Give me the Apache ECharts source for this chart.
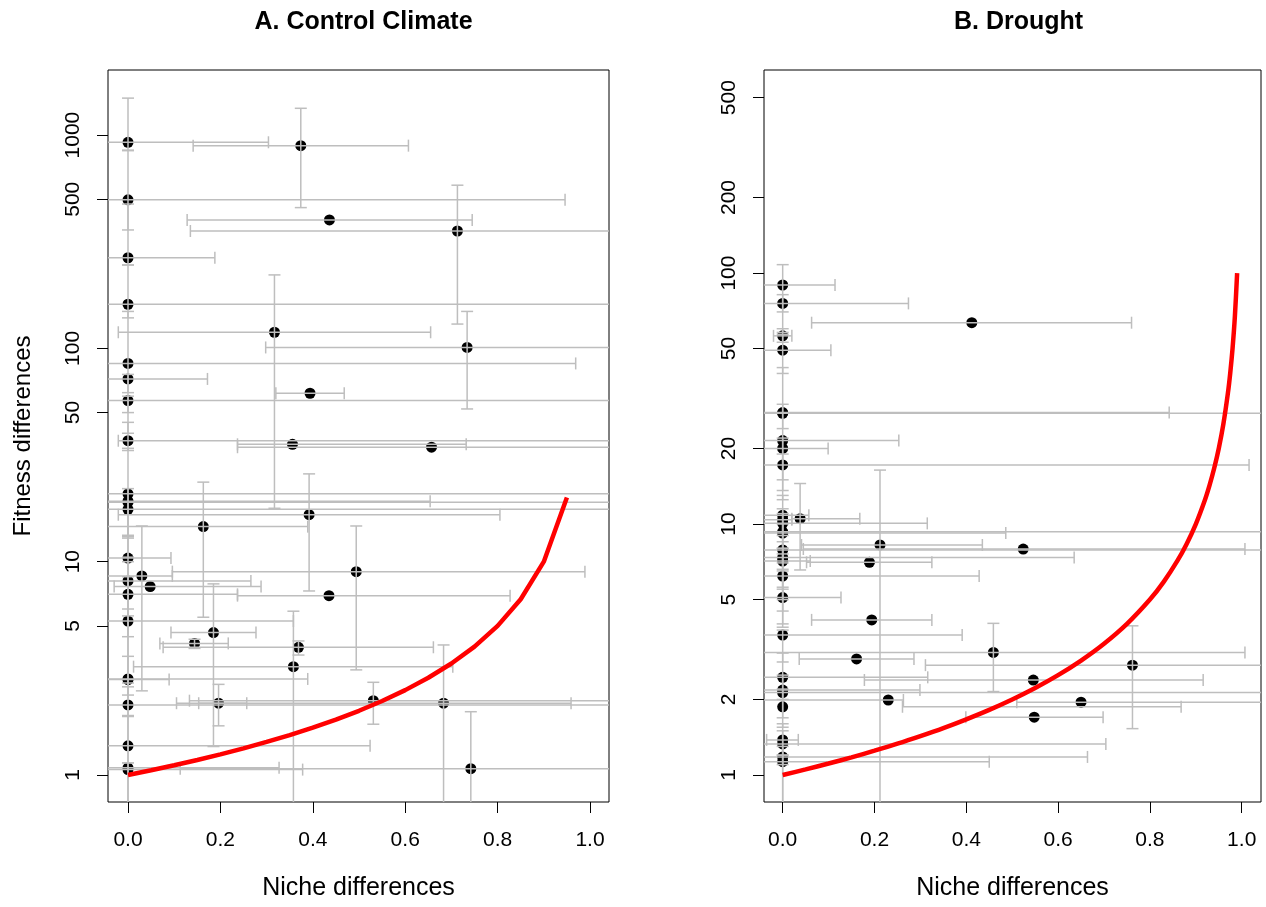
<!DOCTYPE html>
<html>
<head>
<meta charset="utf-8">
<script src="https://cdn.jsdelivr.net/npm/echarts@6.0.0/dist/echarts.min.js"></script>
<style>
html,body{margin:0;padding:0;background:#fff;}
#chart{width:1266px;height:907px;}
</style>
</head>
<body>
<div id="chart"></div>
<script>
// ---------- tick labels ----------
const xTicks = [0, 0.2, 0.4, 0.6, 0.8, 1.0];
const ctrlYTicks = [1, 5, 10, 50, 100, 500, 1000];
const drYTicks = [1, 2, 5, 10, 20, 50, 100, 200, 500];

// ---------- Panel A: Control Climate ----------
const ctrlX   = [0,0,0,0,0,0,0,0,0,0,0,0,0,0,0,0,0,0,0,0,0,0,
                 0.374,0.436,0.713,0.317,0.734,0.394,0.356,0.657,0.392,0.163,0.030,0.048,0.494,0.435,0.185,0.144,0.369,0.358,0.196,0.531,0.683,0.742];
const ctrlY   = [925,497,266,161,85,71.9,56.9,36.9,20.8,19.2,19.0,17.6,10.4,8.12,7.03,5.27,2.82,2.80,2.13,1.37,1.08,1.06,
                 892,400,355,119,101,61.6,35.5,34.4,16.6,14.6,8.57,7.64,8.98,6.93,4.65,4.14,3.97,3.22,2.17,2.23,2.17,1.07];
const ctrlXlo = [-0.1,-0.1,-0.1,-0.1,-0.1,-0.1,-0.1,-0.021,-0.1,-0.1,-0.1,-0.1,-0.1,-0.1,-0.1,-0.1,-0.1,-0.1,-0.1,-0.1,-0.1,-0.1,
                 0.141,0.128,0.135,-0.021,0.298,0.320,0.237,0.237,-0.021,-0.1,-0.1,-0.03,0.096,0.237,0.093,0.069,0.076,0.012,0.105,0.133,0.153,0.113];
const ctrlXhi = [0.304,0.946,0.188,1.2,0.969,0.172,1.2,1.2,1.2,0.654,1.2,1.2,0.093,0.266,0.237,0.358,0.389,0.089,1.2,0.524,0.327,0.378,
                 0.607,0.745,1.2,0.655,1.2,0.468,0.732,1.2,0.805,0.389,0.096,0.288,0.989,0.827,0.277,0.217,0.661,0.703,0.257,1.2,0.959,1.2];
const ctrlYlo = [845,359,246,139,62,50,40,33.2,13.3,12.9,null,10.5,5.57,4.45,2.59,2.37,1.88,null,1.14,0.5,null,0.5,
                 457,null,130,17.8,52,null,null,null,7.29,5.49,2.48,null,3.11,null,1.36,3.92,3.65,0.5,1.70,1.73,0.5,0.5];
const ctrlYhi = [1490,850,475,246,149,75.5,59.7,45,34,22,null,19,13.1,10,8.5,6,3.6,null,2.7,1.9,null,1.14,
                 1335,null,582,221,149,null,null,null,25.8,23.6,14.7,null,14.7,null,7.87,4.33,4.25,5.86,2.66,2.72,4.07,1.98];
const ctrlCurveX = [0,0.05,0.1,0.15,0.2,0.25,0.3,0.35,0.4,0.45,0.5,0.55,0.6,0.65,0.7,0.75,0.8,0.85,0.9,0.95];
const ctrlCurveY = [1,1.053,1.111,1.176,1.25,1.333,1.429,1.538,1.667,1.818,2,2.222,2.5,2.857,3.333,4,5,6.667,10,20];

// ---------- Panel B: Drought ----------
const drX   = [0,0,0,0,0,0,0,0,0,0,0,0,0,0,0,0,0,0,0,0,0,0,0,0,0,0,0,0,
               0.412,0.038,0.212,0.524,0.189,0.194,0.459,0.161,0.762,0.546,0.230,0.650,0.548];
const drY   = [89.6,75.7,56.2,49.3,27.8,27.6,21.5,20.0,17.2,10.85,10.4,10.06,9.31,9.2,7.88,7.35,7.12,6.20,5.09,3.61,2.45,2.18,2.13,1.87,1.38,1.33,1.18,1.13,
               63.4,10.5,8.25,7.95,7.04,4.15,3.08,2.90,2.74,2.39,1.99,1.95,1.70];
const drXlo = [-0.1,-0.1,-0.02,-0.1,-0.1,-0.1,-0.1,-0.1,-0.1,-0.1,-0.1,-0.1,-0.1,-0.1,-0.1,-0.1,-0.1,-0.1,-0.1,-0.1,-0.1,-0.1,-0.1,0.261,-0.035,-0.1,-0.1,-0.1,
               0.063,0.020,0.041,0.045,0.052,0.063,-0.1,0.036,0.311,0.178,-0.1,0.510,0.399];
const drXhi = [0.114,0.274,0.02,0.105,0.842,1.2,0.253,0.099,1.016,0.057,0.020,0.315,1.2,0.486,1.2,0.635,0.06,0.428,0.127,0.391,0.316,0.299,1.2,0.868,0.034,0.704,0.664,0.450,
               0.760,0.168,0.435,1.007,0.325,0.325,1.007,0.286,1.2,0.916,0.263,1.2,0.698];
const drYlo = [70,58,53,39.8,24,null,15,13.6,12.5,9,8,7,6.5,null,5.5,5,4.5,4,3.88,2.82,2.0,1.69,null,1.55,1.2,1.1,0.5,0.5,
               null,6.56,0.5,null,null,null,2.15,null,1.53,null,null,null,null];
const drYhi = [108,82,60,57,42,null,30,22,19,13,11.5,11,10,null,8.5,8,7.6,6.6,5.6,3.78,3.06,2.5,null,2.2,1.6,1.5,1.3,1.2,
               null,14.5,16.4,null,null,null,4.02,null,3.93,null,null,null,null];
const drCurveX = [0,0.05,0.1,0.15,0.2,0.25,0.3,0.35,0.4,0.45,0.5,0.55,0.6,0.65,0.7,0.75,0.8,0.83,0.86,0.88,0.9,0.92,0.93,0.94,0.95,0.96,0.97,0.975,0.98,0.985,0.99];
const drCurveY = [1,1.053,1.111,1.176,1.25,1.333,1.429,1.538,1.667,1.818,2,2.222,2.5,2.857,3.333,4,5,5.882,7.143,8.333,10,12.5,14.29,16.67,20,25,33.33,40,50,66.67,100];

// ---------- build ----------
const FONT = '"Liberation Sans", Arial, Helvetica, sans-serif';
const L = v => Math.log10(v);

function barsSeries(idx, X, Y, XL, XH, YL, YH) {
  return {
    type: 'custom', xAxisIndex: idx, yAxisIndex: idx, z: 3, clip: true, silent: true,
    data: X.map((x, i) => [x, L(Y[i])]),
    renderItem: function (params, api) {
      const i = params.dataIndex;
      const cs = params.coordSys;
      const y = L(Y[i]), x = X[i];
      const st = { stroke: '#bebebe', lineWidth: 1.5, fill: null };
      const ch = [];
      const cap = 6;
      if (XL[i] != null) {
        const a = api.coord([XL[i], y]), b = api.coord([XH[i], y]);
        ch.push({ type: 'line', shape: { x1: a[0], y1: a[1], x2: b[0], y2: b[1] }, style: st });
        ch.push({ type: 'line', shape: { x1: a[0], y1: a[1] - cap, x2: a[0], y2: a[1] + cap }, style: st });
        ch.push({ type: 'line', shape: { x1: b[0], y1: b[1] - cap, x2: b[0], y2: b[1] + cap }, style: st });
      }
      if (YL[i] != null) {
        const a = api.coord([x, L(YL[i])]), b = api.coord([x, L(YH[i])]);
        ch.push({ type: 'line', shape: { x1: a[0], y1: a[1], x2: b[0], y2: b[1] }, style: st });
        ch.push({ type: 'line', shape: { x1: a[0] - cap, y1: a[1], x2: a[0] + cap, y2: a[1] }, style: st });
        ch.push({ type: 'line', shape: { x1: b[0] - cap, y1: b[1], x2: b[0] + cap, y2: b[1] }, style: st });
      }
      return { type: 'group', children: ch,
        clipPath: { type: 'rect', shape: { x: cs.x, y: cs.y, width: cs.width, height: cs.height } } };
    }
  };
}

function xAxisDef(idx, min, max) {
  return {
    type: 'value', gridIndex: idx, min: min, max: max, position: 'bottom',
    name: 'Niche differences', nameLocation: 'middle', nameGap: 74,
    nameTextStyle: { fontSize: 25, color: '#000', fontFamily: FONT },
    axisLine: { show: false, onZero: false },
    splitLine: { show: false },
    axisTick: { show: true, inside: false, length: 11, lineStyle: { color: '#000', width: 1 }, customValues: xTicks },
    axisLabel: { show: true, customValues: xTicks, fontSize: 21, color: '#000', fontFamily: FONT, margin: 28,
      formatter: v => Number(v).toFixed(1) }
  };
}
function yAxisDef(idx, min, max, ticks, name) {
  const tv = ticks.map(L);
  const o = {
    type: 'value', gridIndex: idx, min: min, max: max, position: 'left',
    axisLine: { show: false, onZero: false },
    splitLine: { show: false },
    axisTick: { show: true, inside: false, length: 11, lineStyle: { color: '#000', width: 1 }, customValues: tv },
    axisLabel: { show: true, customValues: tv, rotate: 90, fontSize: 21, color: '#000', fontFamily: FONT, margin: 24,
      formatter: v => String(Math.round(Math.pow(10, v))) }
  };
  if (name) {
    o.name = name; o.nameLocation = 'middle'; o.nameGap = 73; o.nameRotate = 90;
    o.nameTextStyle = { fontSize: 24, color: '#000', fontFamily: FONT };
  }
  return o;
}

const option = {
  animation: false,
  backgroundColor: '#fff',
  title: [
    { text: 'A. Control Climate', left: 358.5, top: 5, textAlign: 'center',
      textStyle: { fontSize: 25, fontWeight: 'bold', color: '#000', fontFamily: FONT } },
    { text: 'B. Drought', left: 1013.5, top: 5, textAlign: 'center',
      textStyle: { fontSize: 25, fontWeight: 'bold', color: '#000', fontFamily: FONT } }
  ],
  grid: [
    { left: 108, top: 70, width: 501, height: 732, show: true, borderColor: '#000', borderWidth: 1, backgroundColor: 'transparent', containLabel: false, outerBoundsMode: 'none' },
    { left: 764, top: 70, width: 497, height: 732, show: true, borderColor: '#000', borderWidth: 1, backgroundColor: 'transparent', containLabel: false, outerBoundsMode: 'none' }
  ],
  xAxis: [ xAxisDef(0, -0.0433, 1.0411), xAxisDef(1, -0.0407, 1.042) ],
  yAxis: [ yAxisDef(0, -0.1266, 3.305, ctrlYTicks, 'Fitness differences'), yAxisDef(1, -0.1076, 2.809, drYTicks, null) ],
  series: [
    { type: 'scatter', xAxisIndex: 0, yAxisIndex: 0, z: 2, symbol: 'circle', symbolSize: 11,
      itemStyle: { color: '#000', opacity: 1 }, data: ctrlX.map((x, i) => [x, L(ctrlY[i])]) },
    barsSeries(0, ctrlX, ctrlY, ctrlXlo, ctrlXhi, ctrlYlo, ctrlYhi),
    { type: 'line', xAxisIndex: 0, yAxisIndex: 0, z: 4, symbol: 'none', smooth: false,
      lineStyle: { color: '#ff0000', width: 4.5 }, data: ctrlCurveX.map((x, i) => [x, L(ctrlCurveY[i])]) },

    { type: 'scatter', xAxisIndex: 1, yAxisIndex: 1, z: 2, symbol: 'circle', symbolSize: 11,
      itemStyle: { color: '#000', opacity: 1 }, data: drX.map((x, i) => [x, L(drY[i])]) },
    barsSeries(1, drX, drY, drXlo, drXhi, drYlo, drYhi),
    { type: 'line', xAxisIndex: 1, yAxisIndex: 1, z: 4, symbol: 'none', smooth: 0.3,
      lineStyle: { color: '#ff0000', width: 4.5 }, data: drCurveX.map((x, i) => [x, L(drCurveY[i])]) }
  ]
};

const chart = echarts.init(document.getElementById('chart'), null, { renderer: 'canvas' });
chart.setOption(option);
</script>
</body>
</html>
